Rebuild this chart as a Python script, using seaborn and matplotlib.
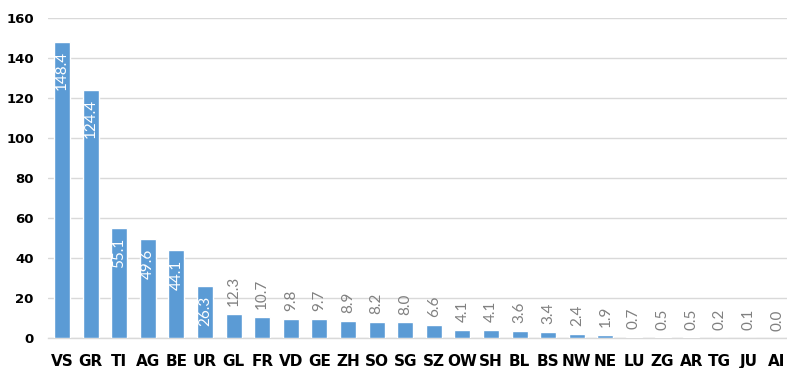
import matplotlib
matplotlib.use("Agg")
import matplotlib.pyplot as plt
import seaborn as sns
import pandas as pd

cantons = ["VS", "GR", "TI", "AG", "BE", "UR", "GL", "FR", "VD", "GE", "ZH", "SO", "SG",
           "SZ", "OW", "SH", "BL", "BS", "NW", "NE", "LU", "ZG", "AR", "TG", "JU", "AI"]
values = [148.4, 124.4, 55.1, 49.6, 44.1, 26.3, 12.3, 10.7, 9.8, 9.7, 8.9, 8.2, 8.0,
          6.6, 4.1, 4.1, 3.6, 3.4, 2.4, 1.9, 0.7, 0.5, 0.5, 0.2, 0.1, 0.0]
y_ticks = [0, 20, 40, 60, 80, 100, 120, 140, 160]

df = pd.DataFrame({"canton": cantons, "value": values})

sns.set_theme(style="white")
plt.rcParams["font.family"] = ["DejaVu Sans"]

W, H = 787, 368
fig = plt.figure(figsize=(W / 100, H / 100), dpi=100)
left_px, top_px, bottom_px = 47.7, 18.3, 338.3
pitch = 28.6
ax = fig.add_axes([left_px / W, (H - bottom_px) / H, (W - left_px) / W, (bottom_px - top_px) / H])

bar_color = "#5B9BD5"
sns.barplot(data=df, x="canton", y="value", color=bar_color, saturation=1,
            width=0.56, ax=ax, zorder=3)

ax.set_xlim(-0.5, -0.5 + (W - left_px) / pitch)
ax.set_ylim(0, 160)
ax.set_yticks(y_ticks)
ax.grid(axis="y", color="#d9d9d9", linewidth=1.0, zorder=0)
ax.grid(axis="x", visible=False)
for side in ["left", "right", "top"]:
    ax.spines[side].set_visible(False)
ax.spines["bottom"].set_color("#d9d9d9")
ax.spines["bottom"].set_linewidth(1.0)
ax.spines["bottom"].set_zorder(2)

ax.set_xlabel("")
ax.set_ylabel("")
ax.tick_params(axis="both", length=0)
ax.tick_params(axis="y", pad=10, labelsize=9.5)
ax.tick_params(axis="x", pad=11, labelsize=11)
for lbl in ax.get_yticklabels() + ax.get_xticklabels():
    lbl.set_fontweight("bold")
    lbl.set_color("black")

# value labels: white inside tall bars, gray above short ones
label_font = dict(family=["Lato", "DejaVu Sans"], fontsize=11)
for i, v in enumerate(values):
    if v > 20:
        ax.annotate(f"{v:.1f}", xy=(i, v), xytext=(0, -7), textcoords="offset points",
                    rotation=90, ha="center", va="top", color="white", **label_font)
    else:
        ax.annotate(f"{v:.1f}", xy=(i, v), xytext=(0, 5.5), textcoords="offset points",
                    rotation=90, ha="center", va="bottom", color="#808080", **label_font)

fig.savefig("out.png", dpi=100)
